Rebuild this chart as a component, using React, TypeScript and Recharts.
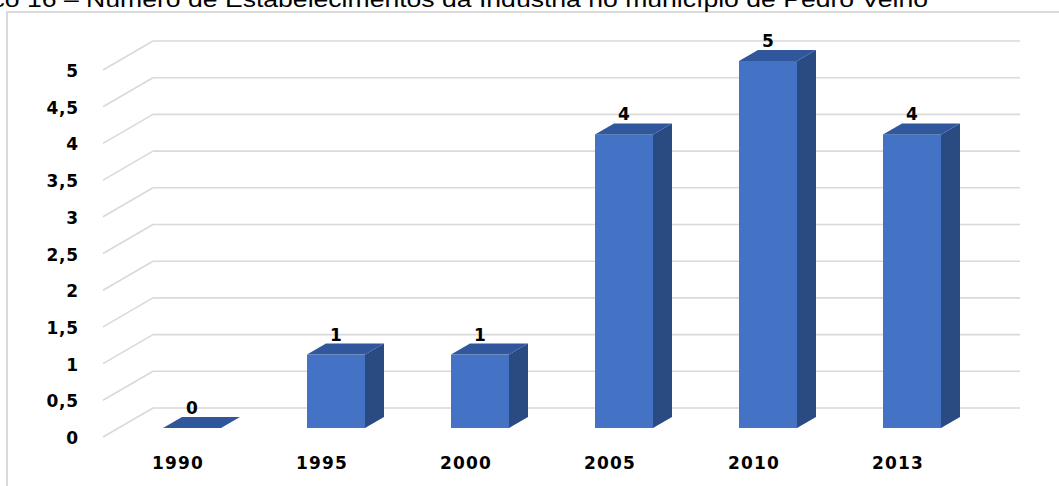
import React from 'react';
import { BarChart, Bar, XAxis, YAxis, CartesianGrid, LabelList } from 'recharts';

const categories = ['1990', '1995', '2000', '2005', '2010', '2013'];
const values = [0, 1, 1, 4, 5, 4];
const yTicks = [0, 0.5, 1, 1.5, 2, 2.5, 3, 3.5, 4, 4.5, 5];
const titleText = 'Gráfico 16 – Número de Estabelecimentos da Indústria no município de Pedro Velho';

const data = categories.map((c, i) => ({ year: c, value: values[i] }));

const FRONT = '#4472C4';
const TOP = '#30579B';
const SIDE = '#2A4A82';
const GRID = '#D9D9D9';
const FONT = '"DejaVu Sans", Verdana, sans-serif';

const DX = 19;
const DY = 11;

const Bar3D = (props: any) => {
  const { x, y, width, height } = props;
  const h = Math.max(0, height || 0);
  return (
    <g>
      {h > 0 && <rect x={x} y={y} width={width} height={h} fill={FRONT} />}
      {h > 0 && (
        <polygon
          points={`${x + width},${y} ${x + width + DX},${y - DY} ${x + width + DX},${y + h - DY} ${x + width},${y + h}`}
          fill={SIDE}
        />
      )}
      <polygon
        points={`${x},${y} ${x + DX},${y - DY} ${x + width + DX},${y - DY} ${x + width},${y}`}
        fill={TOP}
      />
    </g>
  );
};

const GridLine = (props: any) => {
  const { x1, x2, y1 } = props;
  return (
    <g>
      <line x1={x1 - 17} y1={y1 + 9} x2={x1 + 33} y2={y1 - 20} stroke={GRID} strokeWidth={1.6} />
      <line x1={x1 + 33} y1={y1 - 20} x2={x2 + 36} y2={y1 - 20} stroke={GRID} strokeWidth={1.6} />
    </g>
  );
};

const YTick = (props: any) => {
  const { x, y, payload } = props;
  const label = String(payload.value).replace('.', ',');
  return (
    <text x={x} y={y + 16} textAnchor="end" fontFamily={FONT} fontWeight="bold" fontSize={17} fill="#000" letterSpacing={0.8}>
      {label}
    </text>
  );
};

const XTick = (props: any) => {
  const { x, y, payload } = props;
  return (
    <text x={x - 14} y={y + 41} textAnchor="middle" fontFamily={FONT} fontWeight="bold" fontSize={17} fill="#000" letterSpacing={1.2}>
      {payload.value}
    </text>
  );
};

const ValueLabel = (props: any) => {
  const { x, y, width, value } = props;
  return (
    <text x={x + width / 2} y={y - 14} textAnchor="middle" fontFamily={FONT} fontWeight="bold" fontSize={17} fill="#000">
      {value}
    </text>
  );
};

export default function App() {
  return (
    <div style={{ position: 'fixed', left: 0, top: 0, width: 1059, height: 486, background: '#fff', overflow: 'hidden' }}>
      <div
        style={{
          position: 'absolute',
          left: 6,
          top: 11,
          width: 1100,
          height: 500,
          borderLeft: '2px solid #D9D9D9',
          borderTop: '2px solid #D9D9D9',
        }}
      />
      <svg width={1059} height={20} style={{ position: 'absolute', left: 0, top: 0, overflow: 'visible' }}>
        <text
          x={-66}
          y={7}
          fontFamily='"Liberation Sans", Arial, sans-serif'
          fontSize={22}
          fill="#000"
          textLength={994}
          lengthAdjust="spacingAndGlyphs"
        >
          {titleText}
        </text>
      </svg>
      <div style={{ position: 'absolute', left: 0, top: 0 }}>
        <BarChart width={1059} height={486} data={data} margin={{ top: 61, right: 75, bottom: 28, left: 0 }}>
          <CartesianGrid vertical={false} horizontal={(p: any) => <GridLine key={p.key} {...p} />} />
          <XAxis
            dataKey="year"
            axisLine={false}
            tickLine={false}
            tickSize={0}
            tickMargin={0}
            height={30}
            tick={<XTick />}
            interval={0}
          />
          <YAxis
            domain={[0, 5]}
            ticks={yTicks}
            axisLine={false}
            tickLine={false}
            tickSize={0}
            tickMargin={41}
            width={120}
            tick={<YTick />}
            interval={0}
          />
          <Bar dataKey="value" barSize={58} shape={<Bar3D />} isAnimationActive={false}>
            <LabelList dataKey="value" content={<ValueLabel />} />
          </Bar>
        </BarChart>
      </div>
    </div>
  );
}
